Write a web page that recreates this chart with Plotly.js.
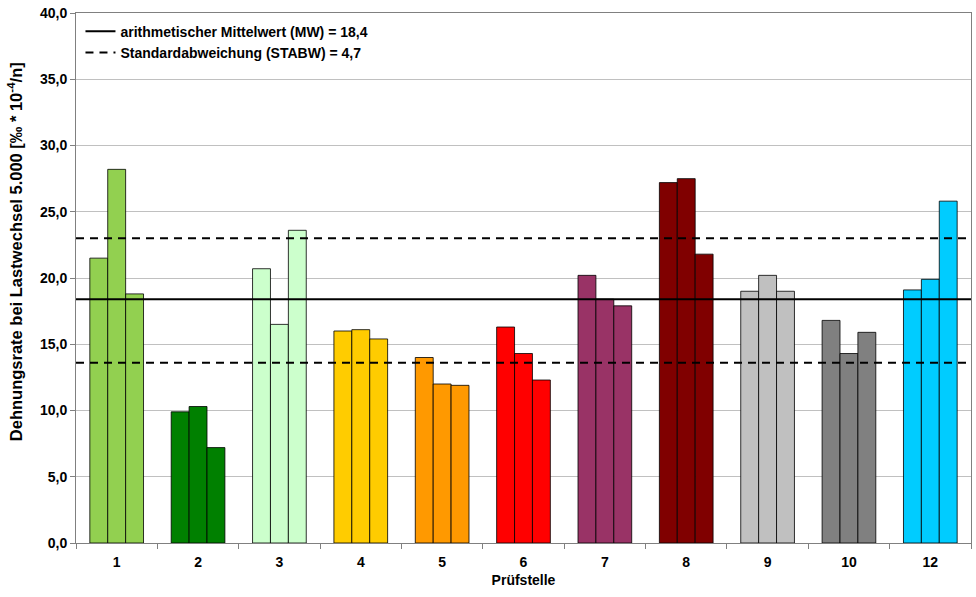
<!DOCTYPE html>
<html><head><meta charset="utf-8">
<script src="https://cdn.plot.ly/plotly-3.0.1.min.js"></script>
<style>html,body{margin:0;padding:0;background:#fff}#c{width:976px;height:597px}</style>
</head><body><div id="c"></div>
<script>
const categories = ['1','2','3','4','5','6','7','8','9','10','12'];
const serie1 = [21.5, 9.9, 20.7, 16.0, 14.0, 16.3, 20.2, 27.2, 19.0, 16.8, 19.1];
const serie2 = [28.2, 10.3, 16.5, 16.1, 12.0, 14.3, 18.4, 27.5, 20.2, 14.3, 19.9];
const serie3 = [18.8, 7.2, 23.6, 15.4, 11.9, 12.3, 17.9, 21.8, 19.0, 15.9, 25.8];
const colors = ['#92D050','#008000','#CCFFCC','#FFCC00','#FF9900','#FF0000','#993366','#800000','#C0C0C0','#808080','#00CCFF'];
const mittelwert = 18.4;
const stabwOben = 23.0;
const stabwUnten = 13.6;
const legendMW = 'arithmetischer Mittelwert (MW) = 18,4';
const legendSTABW = 'Standardabweichung (STABW) = 4,7';
const yTitle = 'Dehnungsrate bei Lastwechsel 5.000 [‰ * 10<sup>-4</sup>/n]';
const xTitle = 'Prüfstelle';

const font = 'Liberation Sans, Arial, sans-serif';
const barTrace = (vals) => ({
  type: 'bar', x: categories, y: vals,
  marker: {color: colors, line: {color: 'rgba(0,0,0,0.8)', width: 1}},
  showlegend: false, hoverinfo: 'y'
});
const data = [
  barTrace(serie1), barTrace(serie2), barTrace(serie3),
  {type: 'scatter', mode: 'lines', xaxis: 'x2', x: [0, 1], y: [mittelwert, mittelwert],
   line: {color: '#000', width: 2}, name: '<b>' + legendMW + '</b>'},
  {type: 'scatter', mode: 'lines', xaxis: 'x2', x: [0, 1, null, 0, 1], y: [stabwOben, stabwOben, null, stabwUnten, stabwUnten],
   line: {color: '#000', width: 2, dash: '8px,6px'}, name: '<b>' + legendSTABW + '</b>', connectgaps: false}
];
const layout = {
  width: 976, height: 597,
  margin: {l: 76, r: 5, t: 13, b: 54},
  paper_bgcolor: '#fff', plot_bgcolor: '#fff',
  separators: ', ',
  barmode: 'group', bargap: 0.34, bargroupgap: 0,
  font: {family: font, color: '#000'},
  xaxis: {
    type: 'category', tickson: 'boundaries', ticks: 'outside', ticklen: 5, tickcolor: '#808080',
    showline: true, linecolor: '#808080', mirror: true, showgrid: false,
    ticklabelstandoff: 6,
    tickfont: {size: 14, family: font, weight: 'bold'},
    title: {text: '<b>' + xTitle + '</b>', font: {size: 14, family: font}, standoff: 6}
  },
  xaxis2: {overlaying: 'x', range: [0, 1], visible: false, fixedrange: true},
  yaxis: {
    range: [0, 40], dtick: 5, tickformat: '.1f', ticks: 'outside', ticklen: 5, tickcolor: '#808080',
    showline: true, linecolor: '#808080', mirror: true,
    showgrid: true, gridcolor: '#c0c0c0', gridwidth: 1, zeroline: false,
    tickfont: {size: 14, family: font, weight: 'bold'}
  },
  annotations: [{
    text: '<b>' + yTitle + '</b>', textangle: -90, xref: 'paper', yref: 'paper',
    x: -0.068, y: 0.549, xanchor: 'center', yanchor: 'middle', showarrow: false,
    font: {size: 16.5, family: font, color: '#000'}
  }],
  legend: {x: 0.005, y: 0.995, xanchor: 'left', yanchor: 'top', bgcolor: 'rgba(0,0,0,0)',
    font: {size: 14, family: font}, tracegroupgap: 0, itemwidth: 30}
};
Plotly.newPlot('c', data, layout, {displayModeBar: false, staticPlot: true});
</script></body></html>
